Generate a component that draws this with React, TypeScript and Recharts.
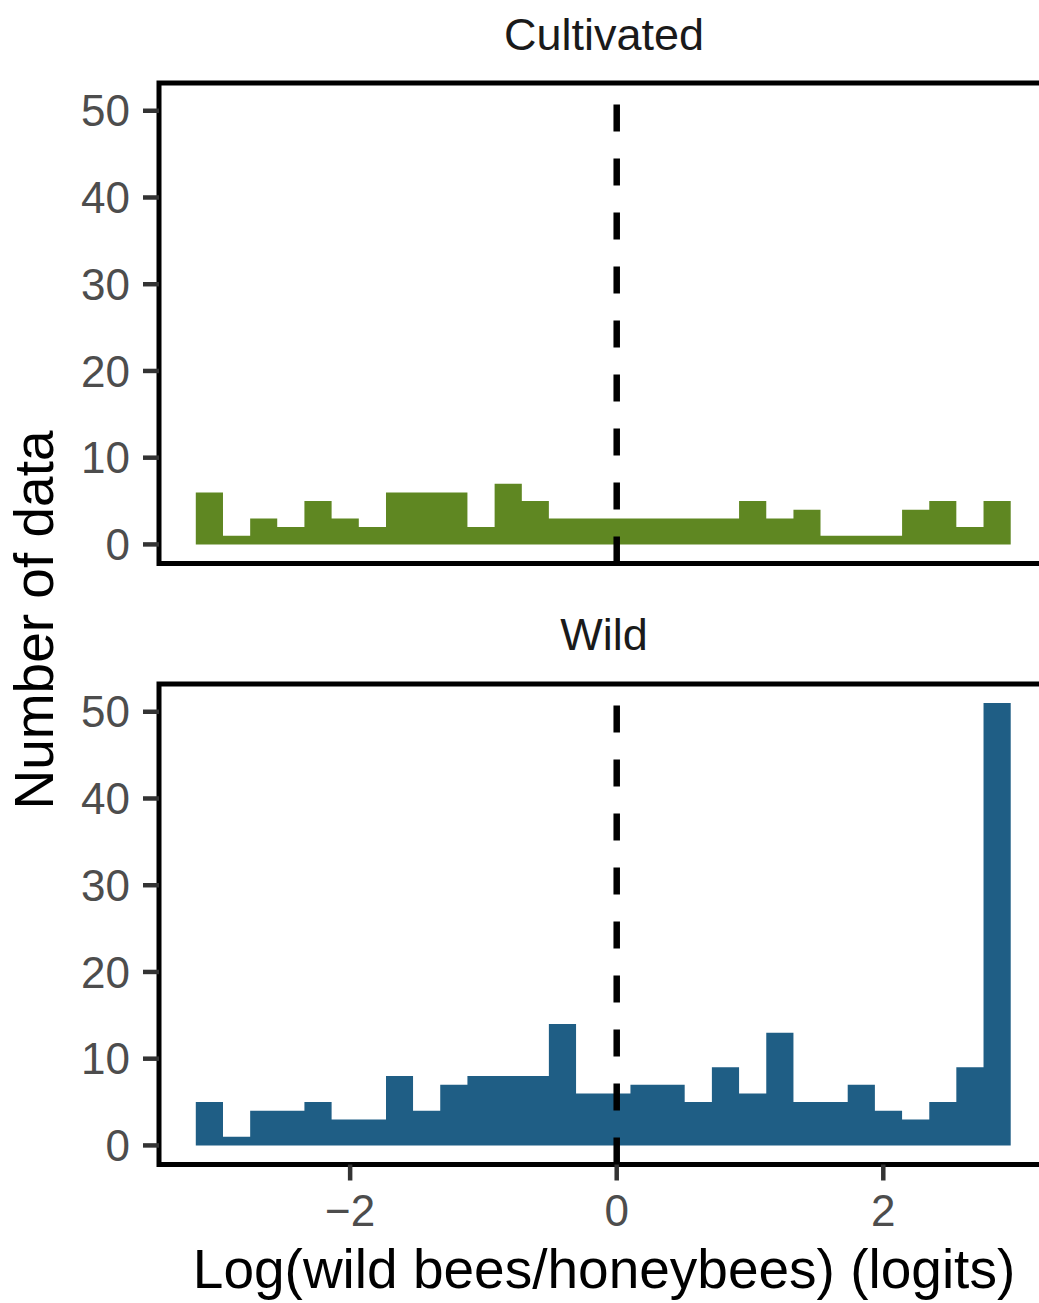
import React from 'react';
import {
  ComposedChart,
  Area,
  XAxis,
  YAxis,
  ReferenceLine,
  ReferenceArea
} from 'recharts';

const FONT = '"Liberation Sans", Arial, Helvetica, sans-serif';

// histogram bin edges (logits), 30 bins
const binEdges = [
  -3.158, -2.954, -2.750, -2.547, -2.343, -2.139, -1.935, -1.731, -1.528, -1.324,
  -1.120, -0.916, -0.712, -0.509, -0.305, -0.101, 0.103, 0.307, 0.510, 0.714,
  0.918, 1.122, 1.326, 1.529, 1.733, 1.937, 2.141, 2.345, 2.548, 2.752, 2.956
];

const cultivatedCounts = [6, 1, 3, 2, 5, 3, 2, 6, 6, 6, 2, 7, 5, 3, 3, 3, 3, 3, 3, 3, 5, 3, 4, 1, 1, 1, 4, 5, 2, 5];
const wildCounts = [5, 1, 4, 4, 5, 3, 3, 8, 4, 7, 8, 8, 8, 14, 6, 6, 7, 7, 5, 9, 6, 13, 5, 5, 7, 4, 3, 5, 9, 51];

const yTicks = [0, 10, 20, 30, 40, 50];
const xTicks = [-2, 0, 2];

const X_DOMAIN: [number, number] = [-3.434, 3.232];
const Y_DOMAIN: [number, number] = [-2.2, 53.2];

// step data: one point per left bin edge, plus closing point at the last edge
const toSteps = (counts: number[]) =>
  counts
    .map((n, i) => ({ x: binEdges[i], n }))
    .concat([{ x: binEdges[counts.length], n: counts[counts.length - 1] }]);

const fmtX = (v: number) => (v < 0 ? `\u2212${Math.abs(v)}` : `${v}`);

const tickStyle = { fill: '#4d4d4d', fontSize: 44, fontFamily: FONT };
const tickLineStyle = { stroke: '#333333', strokeWidth: 4.5 };

interface PanelProps {
  counts: number[];
  color: string;
  top: number;
  height: number;
  margin: { top: number; right: number; left: number; bottom: number };
  showX: boolean;
}

const Panel: React.FC<PanelProps> = ({ counts, color, top, height, margin, showX }) => (
  <div style={{ position: 'absolute', left: 0, top }}>
    <ComposedChart width={1070} height={height} data={toSteps(counts)} margin={margin}>
      <XAxis
        type="number"
        dataKey="x"
        domain={X_DOMAIN}
        allowDataOverflow
        hide={!showX}
        ticks={xTicks}
        interval={0}
        height={60}
        tickSize={16}
        tickMargin={14}
        axisLine={false}
        tick={tickStyle}
        tickLine={tickLineStyle}
        tickFormatter={fmtX}
      />
      <YAxis
        type="number"
        domain={Y_DOMAIN}
        allowDataOverflow
        ticks={yTicks}
        interval={0}
        width={159}
        tickSize={16}
        tickMargin={13}
        axisLine={false}
        tick={tickStyle}
        tickLine={tickLineStyle}
      />
      <Area
        type="stepAfter"
        dataKey="n"
        baseValue={0}
        fill={color}
        fillOpacity={1}
        stroke="none"
        dot={false}
        activeDot={false}
        isAnimationActive={false}
      />
      <ReferenceLine x={0} stroke="#000" strokeWidth={6.5} strokeDasharray="27 27" />
      <ReferenceArea
        x1={X_DOMAIN[0]}
        x2={X_DOMAIN[1]}
        y1={Y_DOMAIN[0]}
        y2={Y_DOMAIN[1]}
        fill="none"
        fillOpacity={0}
        stroke="#000"
        strokeWidth={5}
        strokeOpacity={1}
      />
    </ComposedChart>
  </div>
);

export default function App() {
  return (
    <div
      style={{
        position: 'absolute',
        left: 0,
        top: 0,
        width: 1039,
        height: 1303,
        overflow: 'hidden',
        background: '#fff',
        fontFamily: FONT
      }}
    >
      <Panel
        counts={cultivatedCounts}
        color="#5f8722"
        top={0}
        height={600}
        margin={{ top: 83, right: 22.5, left: 0, bottom: 36.5 }}
        showX={false}
      />
      <Panel
        counts={wildCounts}
        color="#1f5e85"
        top={600}
        height={703}
        margin={{ top: 84, right: 22.5, left: 0, bottom: 78.5 }}
        showX
      />
      <svg
        width={1039}
        height={1303}
        style={{ position: 'absolute', left: 0, top: 0, pointerEvents: 'none' }}
      >
        <text x={604} y={50} textAnchor="middle" fontSize={45} fill="#1a1a1a" fontFamily={FONT}>
          Cultivated
        </text>
        <text x={604} y={650} textAnchor="middle" fontSize={45} fill="#1a1a1a" fontFamily={FONT}>
          Wild
        </text>
        <text x={604} y={1288} textAnchor="middle" fontSize={55} fill="#000" fontFamily={FONT}>
          Log(wild bees/honeybees) (logits)
        </text>
        <text
          x={53}
          y={620}
          textAnchor="middle"
          fontSize={55}
          fill="#000"
          fontFamily={FONT}
          transform="rotate(-90 53 620)"
        >
          Number of data
        </text>
      </svg>
    </div>
  );
}
